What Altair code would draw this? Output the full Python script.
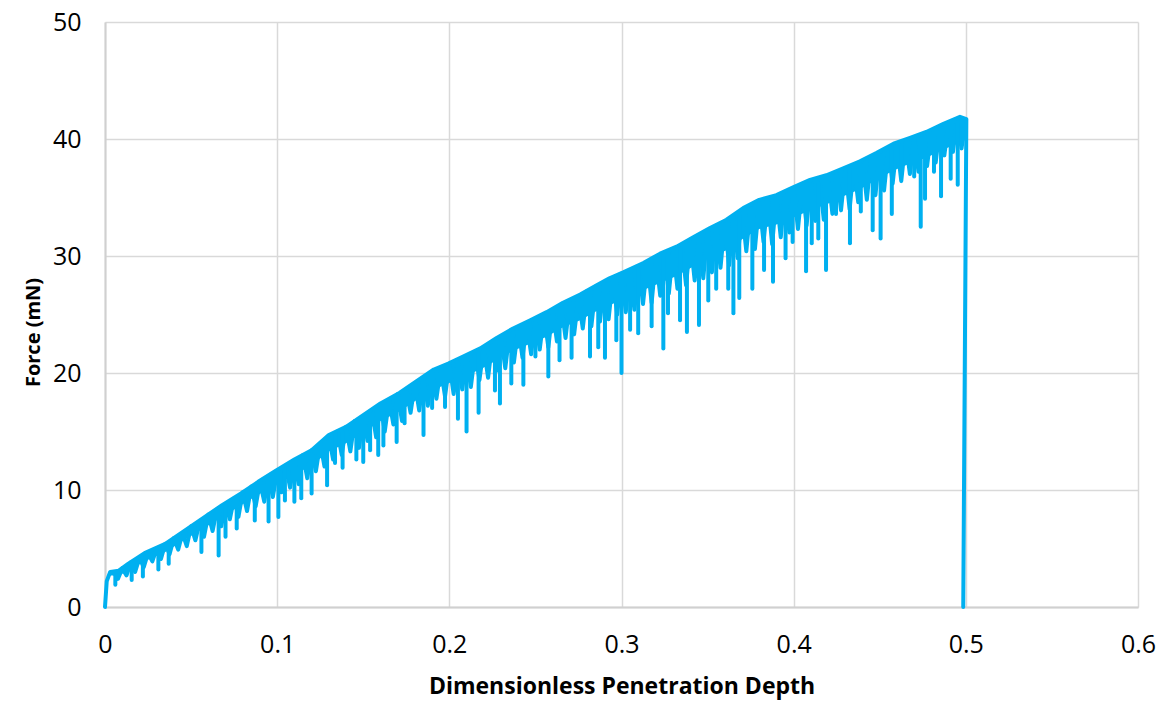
import altair as alt
import pandas as pd

# Upper envelope of the force trace, incl. start and final drop
env_x = [0, 0.001, 0.003, 0.008, 0.0136, 0.023, 0.035, 0.048, 0.058, 0.068, 0.079, 0.089,
         0.0997, 0.110, 0.120, 0.130, 0.140, 0.150, 0.160, 0.171, 0.181, 0.191, 0.1994, 0.208,
         0.218, 0.2275, 0.237, 0.247, 0.2565, 0.266, 0.276, 0.2856, 0.293, 0.301, 0.3127, 0.3224,
         0.332, 0.3417, 0.3514, 0.361, 0.3707, 0.380, 0.390, 0.400, 0.4095, 0.419, 0.4288, 0.4385,
         0.448, 0.458, 0.4676, 0.477, 0.487, 0.4966, 0.5003, 0.4985]
env_y = [0, 2.2, 3.0, 3.1, 3.7, 4.6, 5.4, 6.7, 7.7, 8.7, 9.7, 10.7,
         11.7, 12.6, 13.4, 14.7, 15.4, 16.4, 17.4, 18.3, 19.3, 20.3, 20.8, 21.4,
         22.1, 23.0, 23.8, 24.5, 25.2, 26.0, 26.7, 27.5, 28.1, 28.6, 29.4, 30.2,
         30.8, 31.6, 32.4, 33.1, 34.1, 34.8, 35.2, 35.9, 36.5, 36.9, 37.5, 38.1,
         38.8, 39.6, 40.1, 40.6, 41.3, 41.9, 41.7, 0]

# Dense oscillation of the trace: alternating peaks and dips
zz_x = [0.005, 0.0075, 0.010, 0.0125, 0.015, 0.0175, 0.020, 0.0225, 0.025, 0.0275,
        0.030, 0.0325, 0.035, 0.0375, 0.040, 0.0425, 0.045, 0.0475, 0.050, 0.0525,
        0.055, 0.0575, 0.060, 0.0625, 0.065, 0.0675, 0.070, 0.0725, 0.075, 0.0775,
        0.080, 0.0825, 0.085, 0.0875, 0.090, 0.0925, 0.095, 0.0975, 0.100, 0.1025,
        0.105, 0.1075, 0.110, 0.1125, 0.115, 0.1175, 0.120, 0.1225, 0.125, 0.1275,
        0.130, 0.1325, 0.135, 0.1375, 0.140, 0.1425, 0.145, 0.1475, 0.150, 0.1525,
        0.155, 0.1575, 0.160, 0.1625, 0.165, 0.1675, 0.170, 0.1725, 0.175, 0.1775,
        0.180, 0.1825, 0.185, 0.1875, 0.190, 0.1925, 0.195, 0.1975, 0.200, 0.2025,
        0.205, 0.2075, 0.210, 0.2125, 0.215, 0.2175, 0.220, 0.2225, 0.225, 0.2275,
        0.230, 0.2325, 0.235, 0.2375, 0.240, 0.2425, 0.245, 0.2475, 0.250, 0.2525,
        0.255, 0.2575, 0.260, 0.2625, 0.265, 0.2675, 0.270, 0.2725, 0.275, 0.2775,
        0.280, 0.2825, 0.285, 0.2875, 0.290, 0.2925, 0.295, 0.2975, 0.300, 0.3025,
        0.305, 0.3075, 0.310, 0.3125, 0.315, 0.3175, 0.320, 0.3225, 0.325, 0.3275,
        0.330, 0.3325, 0.335, 0.3375, 0.340, 0.3425, 0.345, 0.3475, 0.350, 0.3525,
        0.355, 0.3575, 0.360, 0.3625, 0.365, 0.3675, 0.370, 0.3725, 0.375, 0.3775,
        0.380, 0.3825, 0.385, 0.3875, 0.390, 0.3925, 0.395, 0.3975, 0.400, 0.4025,
        0.405, 0.4075, 0.410, 0.4125, 0.415, 0.4175, 0.420, 0.4225, 0.425, 0.4275,
        0.430, 0.4325, 0.435, 0.4375, 0.440, 0.4425, 0.445, 0.4475, 0.450, 0.4525,
        0.455, 0.4575, 0.460, 0.4625, 0.465, 0.4675, 0.470, 0.4725, 0.475, 0.4775,
        0.480, 0.4825, 0.485, 0.4875, 0.490, 0.4925, 0.495, 0.4975, 0.500]
zz_y = [3.0, 2.4, 3.3, 2.7, 3.8, 3.0, 4.2, 3.4, 4.6, 3.9,
        5.0, 4.1, 5.4, 4.5, 5.9, 4.9, 6.3, 5.2, 6.9, 5.7,
        7.3, 6.0, 7.9, 6.5, 8.3, 6.9, 8.8, 7.5, 9.3, 7.7,
        9.8, 8.2, 10.3, 8.6, 10.7, 9.0, 11.2, 9.4, 11.6, 9.8,
        12.1, 10.2, 12.5, 10.5, 13.0, 11.0, 13.4, 11.6, 14.0, 12.0,
        14.6, 12.6, 15.0, 13.0, 15.4, 13.3, 15.9, 13.6, 16.3, 14.2,
        16.8, 14.5, 17.3, 15.0, 17.7, 15.6, 18.2, 15.9, 18.6, 16.6,
        19.1, 16.8, 19.6, 17.2, 20.1, 17.8, 20.4, 18.0, 20.8, 18.2,
        21.1, 18.6, 21.4, 18.8, 21.8, 19.4, 22.2, 19.6, 22.7, 20.2,
        23.1, 20.4, 23.5, 20.9, 23.9, 21.3, 24.3, 21.6, 24.6, 22.0,
        25.0, 22.2, 25.4, 22.7, 25.8, 23.0, 26.2, 23.3, 26.5, 23.8,
        27.0, 24.0, 27.4, 24.4, 27.8, 24.6, 28.1, 25.0, 28.5, 25.2,
        28.8, 25.4, 29.1, 25.9, 29.5, 26.0, 29.9, 26.6, 30.2, 26.8,
        30.6, 27.2, 30.9, 27.5, 31.4, 27.9, 31.7, 28.1, 32.2, 28.6,
        32.6, 29.0, 32.9, 29.2, 33.4, 29.8, 33.9, 30.4, 34.3, 30.6,
        34.7, 31.2, 34.9, 31.0, 35.1, 31.6, 35.5, 32.0, 35.8, 32.3,
        36.1, 32.6, 36.4, 33.0, 36.6, 33.1, 36.9, 33.6, 37.1, 33.9,
        37.5, 34.0, 37.8, 34.6, 38.1, 34.8, 38.5, 35.2, 38.8, 35.6,
        39.2, 36.2, 39.6, 36.4, 39.9, 37.0, 40.1, 37.2, 40.4, 37.7,
        40.7, 38.0, 41.1, 38.6, 41.4, 38.9, 41.7, 39.2, 41.8]

# Lower edge of the solid part of the band
band_x = [0.003, 0.008, 0.0136, 0.023, 0.035, 0.048, 0.058, 0.068, 0.079, 0.089,
          0.0997, 0.110, 0.120, 0.130, 0.140, 0.150, 0.160, 0.171, 0.181, 0.191, 0.1994, 0.208,
          0.218, 0.2275, 0.237, 0.247, 0.2565, 0.266, 0.276, 0.2856, 0.293, 0.301, 0.3127, 0.3224,
          0.332, 0.3417, 0.3514, 0.361, 0.3707, 0.380, 0.390, 0.400, 0.4095, 0.419, 0.4288, 0.4385,
          0.448, 0.458, 0.4676, 0.477, 0.487, 0.4966, 0.4995]
band_hi = [3.0, 3.1, 3.7, 4.6, 5.4, 6.7, 7.7, 8.7, 9.7, 10.7,
           11.7, 12.6, 13.4, 14.7, 15.4, 16.4, 17.4, 18.3, 19.3, 20.3, 20.8, 21.4,
           22.1, 23.0, 23.8, 24.5, 25.2, 26.0, 26.7, 27.5, 28.1, 28.6, 29.4, 30.2,
           30.8, 31.6, 32.4, 33.1, 34.1, 34.8, 35.2, 35.9, 36.5, 36.9, 37.5, 38.1,
           38.8, 39.6, 40.1, 40.6, 41.3, 41.9, 41.8]
band_lo = [2.7, 2.7, 3.1, 3.9, 4.7, 5.9, 6.8, 7.7, 8.7, 9.6,
           10.5, 11.3, 12.1, 13.3, 14.0, 14.9, 15.9, 16.7, 17.7, 18.6, 19.1, 19.7,
           20.3, 21.1, 21.9, 22.5, 23.1, 23.9, 24.5, 25.3, 25.8, 26.3, 27.1, 27.7,
           28.3, 29.1, 29.9, 30.5, 31.5, 32.3, 32.7, 33.3, 33.9, 34.4, 35.1, 35.7,
           36.5, 37.3, 37.9, 38.4, 39.1, 39.7, 39.9]

# Deep downward spikes: position, bottom value, top value
spike_x = [0.006, 0.0155, 0.022, 0.031, 0.037, 0.056, 0.066, 0.070, 0.0765, 0.087, 0.095, 0.1007,
           0.1045, 0.110, 0.114, 0.120, 0.129, 0.1336, 0.138, 0.146, 0.150, 0.154, 0.1587, 0.1617,
           0.1694, 0.174, 0.185, 0.190, 0.1975, 0.205, 0.210, 0.217, 0.2265, 0.2294, 0.236, 0.243,
           0.250, 0.2575, 0.264, 0.271, 0.2817, 0.2865, 0.2904, 0.297, 0.300, 0.305, 0.3097, 0.3175,
           0.3243, 0.327, 0.334, 0.338, 0.345, 0.3504, 0.355, 0.362, 0.365, 0.3684, 0.376, 0.3828,
           0.388, 0.3953, 0.3994, 0.4072, 0.4105, 0.4143, 0.4188, 0.4246, 0.4327, 0.439, 0.4459,
           0.4505, 0.457, 0.4627, 0.470, 0.4738, 0.4763, 0.4815, 0.4856, 0.4912, 0.4953]
spike_lo = [1.9, 2.3, 2.6, 3.2, 3.7, 4.7, 4.4, 6.0, 6.7, 7.4, 7.3, 7.7,
            9.1, 9.0, 9.3, 9.7, 10.4, 12.3, 11.9, 12.6, 12.4, 13.4, 13.0, 13.8,
            14.1, 15.7, 14.7, 17.0, 17.1, 16.1, 15.0, 16.6, 18.5, 17.4, 19.1, 19.0,
            21.4, 19.7, 21.1, 21.3, 21.4, 22.2, 21.3, 22.8, 20.0, 23.7, 23.4, 24.0,
            22.1, 25.1, 24.5, 23.5, 24.1, 26.2, 27.2, 27.2, 25.1, 26.4, 27.2, 28.8,
            27.8, 29.8, 31.2, 28.7, 31.1, 31.5, 28.8, 33.6, 31.1, 33.8, 32.2,
            31.5, 33.6, 37.2, 36.8, 32.5, 34.9, 37.2, 35.1, 36.6, 36.1]
spike_hi = [3.0, 3.8, 4.4, 5.0, 5.4, 7.4, 8.4, 8.8, 9.4, 10.4, 11.2, 11.7,
            12.0, 12.5, 12.8, 13.3, 14.3, 14.8, 15.1, 15.9, 16.2, 16.6, 17.1, 17.4,
            18.0, 18.5, 19.5, 20.0, 20.6, 21.0, 21.3, 21.9, 22.7, 23.0, 23.6, 24.1,
            24.6, 25.1, 25.7, 26.2, 27.0, 27.3, 27.7, 28.2, 28.4, 28.7, 29.0, 29.6,
            30.1, 30.3, 30.7, 31.0, 31.6, 32.0, 32.4, 32.9, 33.2, 33.5, 34.1, 34.5,
            34.8, 35.2, 35.5, 35.9, 36.1, 36.3, 36.5, 36.9, 37.4, 37.8, 38.3,
            38.6, 39.1, 39.5, 39.9, 40.1, 40.3, 40.6, 40.9, 41.2, 41.4]

x_ticks = [0, 0.1, 0.2, 0.3, 0.4, 0.5, 0.6]
y_ticks = [0, 10, 20, 30, 40, 50]

COLOR = "#00B0F0"
SW = 4

env = pd.DataFrame({"x": env_x, "y": env_y, "i": list(range(len(env_x)))})
zz = pd.DataFrame({"x": zz_x, "y": zz_y})
band = pd.DataFrame({"x": band_x, "lo": band_lo, "hi": band_hi})
spikes = pd.DataFrame({"x": spike_x, "lo": spike_lo, "hi": spike_hi})

xscale = alt.Scale(domain=[0, 0.6], nice=False, zero=False)
yscale = alt.Scale(domain=[0, 50], nice=False)

xaxis = alt.Axis(values=x_ticks, format="~g", title="Dimensionless Penetration Depth",
                 titleY=68, titleBaseline="top", titleFontSize=23, labelFlush=False)
yaxis = alt.Axis(values=y_ticks, title="Force (mN)", titleX=-62, titleY=310)

band_layer = alt.Chart(band).mark_area(color=COLOR, opacity=1).encode(
    x=alt.X("x:Q", scale=xscale, axis=xaxis),
    y=alt.Y("lo:Q", scale=yscale, axis=yaxis),
    y2="hi:Q",
)

zz_layer = alt.Chart(zz).mark_line(color=COLOR, strokeWidth=SW, strokeJoin="round").encode(
    x="x:Q",
    y="y:Q",
)

spike_layer = alt.Chart(spikes).mark_rule(color=COLOR, strokeWidth=SW, strokeCap="round").encode(
    x="x:Q",
    y="lo:Q",
    y2="hi:Q",
)

line_layer = alt.Chart(env).mark_line(color=COLOR, strokeWidth=SW, strokeJoin="round",
                                      strokeCap="round").encode(
    x="x:Q",
    y="y:Q",
    order="i:Q",
)

chart = alt.layer(band_layer, zz_layer, spike_layer, line_layer).properties(
    width=1033,
    height=585,
    autosize=alt.AutoSizeParams(type="none"),
    padding={"left": 105, "top": 22, "right": 29, "bottom": 97},
).configure_view(
    stroke=None
).configure_axis(
    grid=True,
    gridColor="#D9D9D9",
    gridWidth=1.5,
    domainColor="#D0D0D0",
    domainWidth=2,
    ticks=False,
    labelFont="Open Sans",
    labelFontSize=25,
    labelColor="#000000",
    titleFont="Open Sans",
    titleFontSize=20,
    titleFontWeight="bold",
    titleColor="#000000",
).configure_axisX(
    labelPadding=25,
).configure_axisY(
    labelPadding=24,
)

chart.save("out.html", embed_options={"renderer": "svg", "actions": False})
